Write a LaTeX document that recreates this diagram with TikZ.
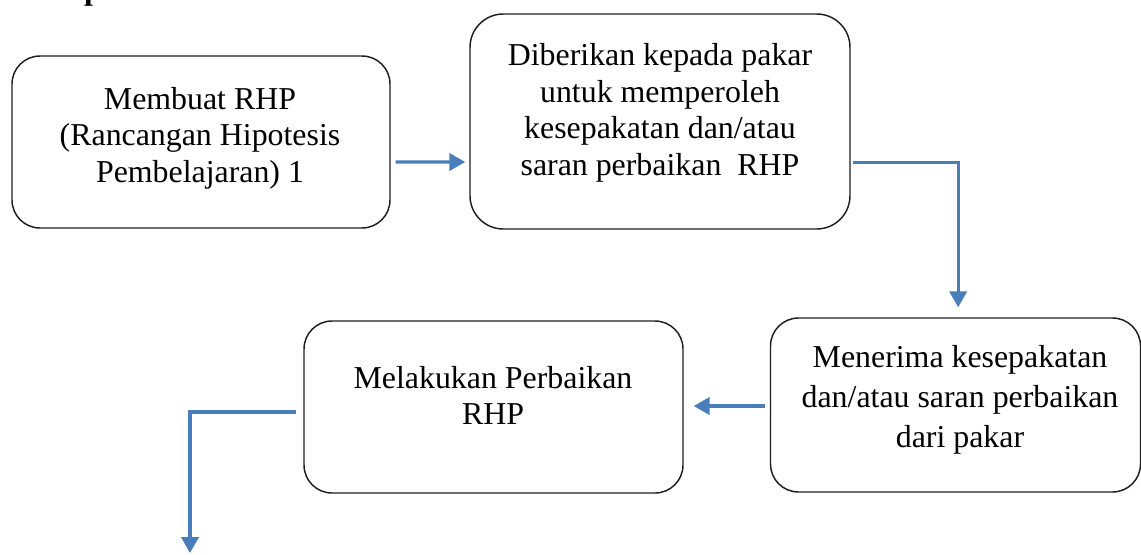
\documentclass[tikz,border=0pt]{standalone}
\usepackage{fontspec}
\setmainfont{Liberation Serif}
\usetikzlibrary{arrows.meta}
\definecolor{arrowblue}{HTML}{4A7EBB}
\begin{document}
\begin{tikzpicture}[x=0.75pt,y=-0.75pt,
  box/.style={draw=black!88, line width=1.1pt, rounded corners=#1, inner sep=0pt},
  txt/.style={align=center, inner sep=0pt, anchor=north, font=\fontsize{23.9}{27.4}\selectfont},
  flow/.style={draw=arrowblue, line width=2.3pt, -{Triangle[length=12pt,width=13pt]}}]
\useasboundingbox (0,0) rectangle (1141,554);

% heading fragment (cut by the top edge, as in the reference)
\node[inner sep=0pt, anchor=base west, font=\fontsize{23.9}{27.4}\selectfont\bfseries] (head) at (16,-0.5) {Tahap};

% boxes
\node[box=21pt, minimum width=283.5pt, minimum height=129pt] (b1) at (201,142) {};
\node[box=25pt, minimum width=285pt, minimum height=161.25pt] (b2) at (660,121.5) {};
\node[box=21pt, minimum width=284.25pt, minimum height=129pt] (b3) at (493.5,407) {};
\node[box=21pt, minimum width=277.5pt, minimum height=130.5pt] (b4) at (955.5,405) {};

% texts
\node[txt] (t1) at (200,83.4) {\strut Membuat RHP\\(Rancangan Hipotesis\\Pembelajaran) 1};
\node[txt] (t2) at (660,40) {\strut Diberikan kepada pakar\\untuk memperoleh\\kesepakatan dan/atau\\saran perbaikan\ \ RHP};
\node[txt] (t3) at (493,362.4) {\strut Melakukan Perbaikan\\RHP};
\node[txt, font=\fontsize{23.9}{30}\selectfont] (t4) at (960,339) {\strut Menerima kesepakatan\\dan/atau saran perbaikan\\dari pakar};

% connectors
\coordinate (end4) at (190,553);
\draw[flow] ([xshift=3.75pt,yshift=-15pt]b1.east) -- ([xshift=-3pt,yshift=-30.4pt]b2.west);
\draw[flow] ([xshift=1.5pt,yshift=-30.4pt]b2.east) -| ([xshift=2pt,yshift=7.5pt]b4.north);
\draw[flow] ([xshift=-3.75pt,yshift=-0.75pt]b4.west) -- ([xshift=7.5pt,yshift=0.75pt]b3.east);
\draw[flow] ([xshift=-5.25pt,yshift=-3.75pt]b3.west) -| (end4);
\end{tikzpicture}
\end{document}
